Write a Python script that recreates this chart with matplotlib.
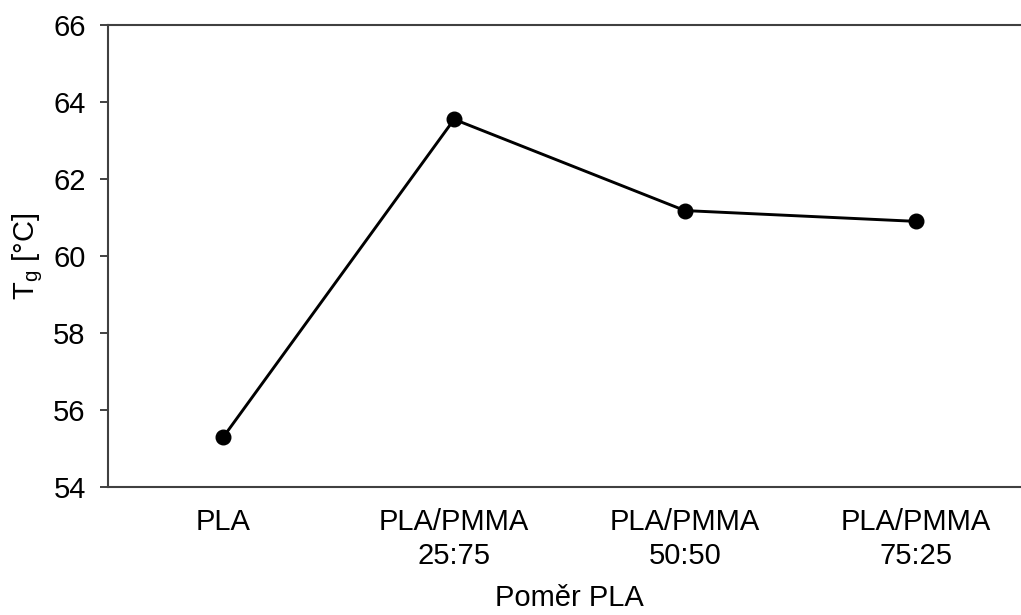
import matplotlib.pyplot as plt

plt.rcParams['font.family'] = ['Liberation Sans', 'DejaVu Sans']

# Données
categories = ['PLA', 'PLA/PMMA\n25:75', 'PLA/PMMA\n50:50', 'PLA/PMMA\n75:25']
tg_values = [55.3, 63.55, 61.18, 60.9]
y_ticks = [54, 56, 58, 60, 62, 64, 66]

fig = plt.figure(figsize=(10.21, 6.15), dpi=100)
ax = fig.add_axes([108 / 1021, 128 / 615, 923 / 1021, 462 / 615])

x = range(len(categories))
ax.plot(x, tg_values, color='black', linewidth=2.1, marker='o', markersize=10.5)

ax.set_xlim(-0.5, 3.5)
ax.set_ylim(54, 66)
ax.set_yticks(y_ticks)
ax.set_xticks(list(x))
ax.set_xticklabels(categories, fontsize=21, linespacing=1.3)
ax.tick_params(axis='y', labelsize=21, length=6, width=1.4, color='#404040', pad=10, direction='out')
ax.tick_params(axis='x', length=0, pad=15)

for side in ['left', 'bottom', 'top']:
    ax.spines[side].set_color('#404040')
    ax.spines[side].set_linewidth(1.5)
ax.spines['right'].set_visible(False)

ax.set_ylabel(r'T$_\mathregular{g}$ [°C]', fontsize=21, labelpad=6)
ax.set_xlabel('Poměr PLA', fontsize=21, labelpad=10)

plt.savefig('out.png', dpi=100)
